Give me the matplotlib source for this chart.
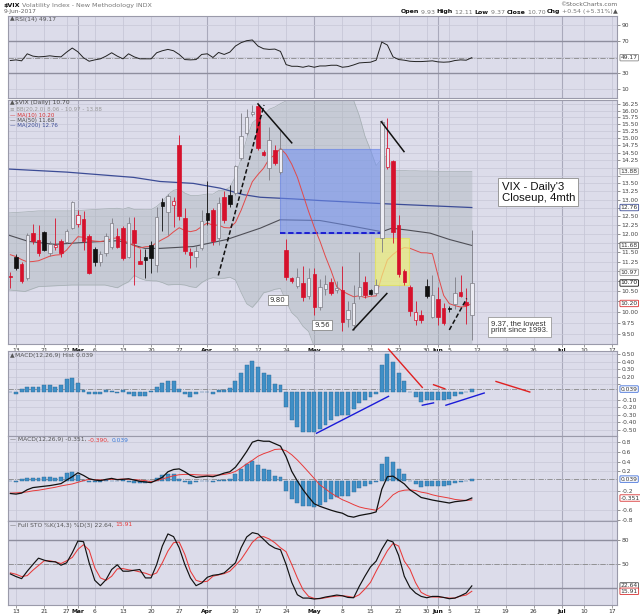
import numpy as np
import matplotlib
matplotlib.use('Agg')
import matplotlib.pyplot as plt
from matplotlib.patches import Rectangle
from matplotlib.transforms import blended_transform_factory
from matplotlib.ticker import NullLocator, NullFormatter

plt.rcParams['font.family'] = ['DejaVu Sans']

# ---------------- data (trading-day index: -1 = 10 Feb 2017 ... 81 = 9 Jun 2017) -------------
prev_close = 10.88
opens = [10.88, 11.38, 11.19, 10.82, 12.02, 11.83, 12.04, 11.47, 11.63, 11.81, 11.77, 12.17, 12.27, 12.43,
         11.95, 11.58, 11.25, 11.47, 11.65, 11.95, 12.16, 11.38, 12.11, 11.27, 11.38, 11.69, 11.16, 12.94,
         12.64, 12.84, 14.77, 12.44, 11.51, 11.36, 11.60, 12.59, 12.69, 11.89, 13.09, 13.13, 13.21, 14.31,
         15.17, 15.86, 16.17, 14.51, 13.98, 14.58, 13.85, 11.56, 10.82, 10.62, 10.70, 10.38, 10.92, 10.12,
         10.55, 10.72, 10.52, 10.52, 9.84, 9.70, 10.39, 10.72, 10.52, 10.45, 11.88, 14.04, 14.22, 12.26,
         11.00, 10.61, 9.81, 9.94, 10.62, 9.89, 10.31, 10.09, 10.10, 10.18, 10.47, 10.24, 9.93]
highs = [10.97, 11.45, 11.25, 12.02, 12.27, 12.25, 12.08, 11.80, 12.44, 11.85, 12.15, 12.96, 12.70, 12.65,
         12.00, 11.65, 11.53, 12.02, 12.44, 12.16, 12.22, 12.49, 12.49, 11.58, 11.58, 11.79, 12.79, 13.05,
         13.17, 13.09, 15.11, 12.75, 11.60, 11.70, 12.69, 13.56, 12.75, 13.09, 13.27, 13.45, 14.10, 15.90,
         16.05, 16.22, 16.25, 14.60, 15.40, 14.75, 15.29, 11.86, 10.85, 11.07, 11.12, 11.08, 11.07, 10.80,
         10.90, 10.82, 10.75, 11.12, 10.25, 10.66, 11.51, 10.87, 10.55, 10.80, 15.65, 15.71, 14.25, 12.54,
         11.06, 10.66, 10.26, 10.05, 10.80, 10.90, 10.60, 10.20, 10.15, 10.85, 10.90, 10.57, 12.11]
lows = [10.57, 11.02, 10.70, 10.78, 11.72, 11.40, 11.52, 11.40, 11.55, 11.38, 11.74, 12.13, 12.20, 11.56,
        10.93, 11.12, 11.14, 11.40, 11.58, 11.60, 11.29, 11.34, 10.65, 11.19, 10.82, 10.95, 10.99, 12.08,
        11.96, 12.20, 12.40, 11.45, 11.07, 11.10, 11.55, 12.26, 11.70, 11.70, 12.30, 12.79, 13.15, 14.25,
        15.10, 15.80, 14.60, 14.38, 13.60, 14.10, 13.80, 10.78, 10.70, 10.57, 10.26, 10.30, 9.93, 10.05,
        10.40, 10.40, 10.45, 9.56, 9.65, 9.59, 10.30, 10.34, 10.40, 10.40, 11.51, 13.95, 11.75, 10.86,
        10.64, 9.90, 9.70, 9.75, 10.34, 9.85, 9.70, 9.70, 10.00, 10.08, 10.35, 9.73, 9.37]
closes = [10.85, 11.07, 10.74, 11.97, 11.79, 11.47, 11.56, 11.71, 11.69, 11.47, 12.09, 12.92, 12.54, 11.81,
          10.95, 11.25, 11.44, 11.93, 12.30, 11.65, 11.35, 12.30, 11.75, 11.19, 11.28, 11.34, 12.47, 12.81,
          13.12, 12.96, 12.50, 11.53, 11.42, 11.54, 12.37, 12.38, 11.79, 12.89, 12.39, 12.87, 14.05, 15.07,
          15.77, 15.96, 14.66, 14.42, 14.93, 14.15, 14.63, 10.84, 10.76, 10.85, 10.36, 10.82, 10.11, 10.59,
          10.68, 10.46, 10.57, 9.77, 10.05, 10.21, 10.60, 10.40, 10.42, 10.65, 15.59, 14.66, 12.04, 10.93,
          10.72, 10.02, 9.99, 9.81, 10.38, 10.41, 9.89, 9.75, 10.07, 10.45, 10.39, 10.16, 10.70]

# moving-average values read off the chart where the history is not visible
ma10_head = [11.43, 11.38, 11.30, 11.24, 11.25, 11.27, 11.33, 11.39, 11.42]
bb_head_idx = [-1.4, 1.6, 4.0, 9.9, 15.8]
bb_head_upper = [12.60, 12.63, 12.66, 12.66, 12.72]
bb_head_lower = [10.53, 10.49, 10.61, 10.65, 10.65]
ma50_idx = [-1.4, 2.2, 6.9, 12.9, 18.2, 22.9, 25.6, 31.5, 37.4, 43.4, 46.9, 54.0, 60.0, 65.0, 66.8, 69.4,
            73.6, 77.1, 81.0]
ma50_val = [11.97, 11.79, 11.71, 11.77, 11.81, 11.60, 11.60, 11.65, 11.84, 12.16, 12.40, 12.38, 12.21,
            12.06, 12.16, 12.11, 12.02, 11.84, 11.68]
ma200_idx = [-1.4, 9.0, 20.9, 25.6, 31.5, 36.3, 40.4, 43.4, 49.3, 54.0, 65.9, 81.0]
ma200_val = [13.96, 13.86, 13.69, 13.56, 13.50, 13.35, 13.15, 13.07, 13.02, 12.97, 12.87, 12.76]

rsi = [45.6, 46.4, 45.2, 54.0, 51.1, 50.2, 50.6, 51.5, 50.6, 50.2, 56.1, 61.2, 56.5, 49.0, 44.7, 46.4, 47.7,
       51.1, 55.3, 51.1, 47.7, 54.0, 50.2, 47.7, 47.7, 47.7, 55.3, 57.8, 59.5, 57.8, 53.2, 46.8, 46.4, 46.8,
       53.2, 54.0, 49.4, 55.7, 53.2, 56.1, 63.7, 67.9, 70.4, 71.3, 63.7, 60.3, 59.5, 59.9, 57.0, 40.5, 38.4,
       38.4, 37.2, 38.8, 37.2, 38.8, 38.8, 39.7, 39.7, 37.2, 38.0, 40.1, 42.6, 43.1, 43.5, 46.0, 68.7, 64.9,
       50.2, 46.8, 46.0, 44.7, 44.3, 44.3, 44.7, 45.2, 43.9, 43.5, 43.9, 45.6, 46.4, 46.0, 49.17]
hist = [-0.005, -0.02, 0.04, 0.07, 0.07, 0.07, 0.09, 0.09, 0.065, 0.09, 0.17, 0.18, 0.12, 0.03, -0.02, -0.03,
        -0.02, 0.02, 0.01, -0.01, 0.02, -0.03, -0.05, -0.05, -0.05, 0.01, 0.07, 0.12, 0.15, 0.14, 0.04, -0.03,
        -0.06, -0.03, 0.005, 0.0, -0.02, 0.03, 0.03, 0.05, 0.14, 0.25, 0.36, 0.41, 0.33, 0.25, 0.22, 0.10,
        0.09, -0.20, -0.37, -0.46, -0.52, -0.52, -0.53, -0.49, -0.43, -0.37, -0.32, -0.30, -0.30, -0.23,
        -0.14, -0.10, -0.07, -0.02, 0.36, 0.50, 0.40, 0.25, 0.14, 0.0, -0.07, -0.13, -0.11, -0.11, -0.11,
        -0.11, -0.09, -0.05, -0.02, -0.005, 0.039]
macd = [-0.258, -0.27, -0.25, -0.18, -0.136, -0.122, -0.108, -0.095, -0.075, -0.054, 0.02, 0.088, 0.17,
        0.115, 0.047, 0.02, 0.007, 0.034, 0.054, 0.027, 0.034, 0.047, 0.02, -0.007, -0.02, -0.034, 0.02,
        0.075, 0.19, 0.237, 0.25, 0.19, 0.115, 0.075, 0.088, 0.10, 0.088, 0.122, 0.163, 0.19, 0.285, 0.44,
        0.61, 0.80, 0.84, 0.82, 0.82, 0.77, 0.72, 0.50, 0.20, 0.0, -0.18, -0.33, -0.47, -0.522, -0.563,
        -0.603, -0.637, -0.664, -0.725, -0.746, -0.712, -0.69, -0.67, -0.637, -0.17, 0.09, 0.10, 0.02, -0.06,
        -0.183, -0.258, -0.34, -0.366, -0.393, -0.414, -0.434, -0.454, -0.427, -0.414, -0.40, -0.351]
signal = [-0.25, -0.244, -0.237, -0.224, -0.203, -0.19, -0.17, -0.149, -0.129, -0.102, -0.081, -0.061,
          -0.027, 0.007, 0.034, 0.027, 0.02, 0.027, 0.034, 0.034, 0.041, 0.034, 0.027, 0.02, 0.007, -0.014,
          0.007, 0.041, 0.075, 0.108, 0.129, 0.136, 0.136, 0.129, 0.122, 0.122, 0.122, 0.122, 0.136, 0.156,
          0.197, 0.27, 0.353, 0.427, 0.51, 0.563, 0.603, 0.65, 0.658, 0.624, 0.541, 0.433, 0.31, 0.182,
          0.052, -0.08, -0.163, -0.25, -0.32, -0.386, -0.434, -0.488, -0.535, -0.563, -0.583, -0.603, -0.522,
          -0.407, -0.285, -0.217, -0.19, -0.183, -0.197, -0.23, -0.25, -0.285, -0.312, -0.332, -0.353, -0.38,
          -0.393, -0.40, -0.390]
sto_k = [37.6, 34.3, 31.7, 41.0, 49.4, 57.3, 54.8, 53.1, 52.7, 48.5, 51.5, 64.1, 78.7, 77.9, 51.5, 29.6, 22.9,
         30.4, 43.1, 49.0, 41.0, 41.0, 42.2, 43.1, 32.6, 32.6, 49.4, 72.4, 87.6, 84.2, 70.3, 49.4, 32.6, 22.9,
         26.3, 33.4, 35.9, 36.8, 38.9, 45.2, 51.5, 70.3, 83.8, 89.2, 87.6, 80.8, 74.1, 69.9, 67.8, 49.4, 27.1,
         11.6, 7.4, 7.4, 6.2, 7.0, 8.7, 9.9, 11.2, 10.3, 8.2, 7.8, 22.1, 34.7, 46.4, 53.6, 68.3, 80.0, 77.5,
         60.7, 34.7, 20.8, 13.7, 9.5, 7.8, 9.5, 9.5, 8.2, 6.6, 7.4, 10.3, 13.7, 22.64]
sto_d = [38.9, 37.2, 34.3, 35.5, 42.2, 48.1, 54.0, 54.0, 52.7, 50.6, 54.0, 58.2, 68.3, 74.1, 67.4, 45.2, 32.6,
         29.6, 34.7, 43.9, 44.3, 42.7, 41.8, 40.1, 38.5, 35.9, 38.9, 51.5, 66.2, 76.6, 77.5, 62.0, 41.0, 29.6,
         27.5, 28.4, 34.7, 36.4, 38.0, 41.0, 48.1, 55.7, 66.2, 77.1, 83.4, 84.2, 81.3, 76.6, 70.3, 65.3, 49.4,
         32.6, 17.9, 9.5, 7.0, 6.6, 7.8, 9.1, 9.9, 10.3, 9.5, 8.2, 11.6, 18.7, 27.1, 41.0, 54.0, 66.6, 75.8,
         72.4, 53.6, 43.5, 26.7, 14.5, 10.8, 8.7, 8.7, 8.2, 7.4, 7.4, 9.9, 11.2, 15.91]

tick_idx = [0, 5, 9, 11, 14, 19, 24, 29, 34, 39, 43, 48, 53, 58, 63, 68, 73, 75, 77, 82, 87, 92, 97, 101, 106]
tick_lab = ['13', '21', '27', 'Mar', '6', '13', '20', '27', 'Apr', '10', '17', '24', 'May', '8', '15', '22',
            '30', 'Jun', '5', '12', '19', '26', 'Jul', '10', '17']
month_labels = ['Mar', 'Apr', 'May', 'Jun', 'Jul']

# annotations drawn on the chart (x in trading-day index, y in panel units)
price_trend_solid = [((43.0, 16.25), (49.0, 14.84)), ((64.9, 15.59), (68.95, 14.54)),
                     ((59.9, 9.59), (65.9, 10.44))]
price_trend_dashed = [((35.95, 10.89), (44.07, 16.21)), ((77.0, 9.59), (80.1, 10.32))]
hist_red_lines = [((66.2, 0.565), (72.2, 0.061)), ((74.2, 0.096), (76.2, 0.043)), ((85.3, 0.139), (91.3, 0.0))]
hist_blue_lines = [((53.4, -0.543), (66.2, -0.057)), ((72.2, -0.174), (74.2, -0.143)),
                   ((76.4, -0.174), (83.2, -0.013))]
blue_box = (46.9, 65.0, 12.02, 14.63)
yellow_box = (63.8, 69.9, 10.65, 11.88)

# ---------------- figure ----------------
W, H = 640, 614
fig = plt.figure(figsize=(W / 100, H / 100), dpi=100, facecolor='white')
renderer = fig.canvas.get_renderer()
BG = '#dcdcea'
GRID = '#c7c7d7'
MGRID = '#a9a9bb'
XL = (-1.42, 106.8)
days = np.arange(-1, 82)


def px_axes(top, bottom, left=8, right=617):
    return fig.add_axes([left / W, 1 - bottom / H, (right - left) / W, (bottom - top) / H])


def style(ax, ylim, yticks, fmt, boxes=(), log=False):
    ax.set_facecolor(BG)
    if log:
        ax.set_yscale('log')
    ax.set_xlim(XL)
    ax.set_ylim(ylim)
    ax.yaxis.tick_right()
    ax.set_yticks(yticks)
    # labels hidden behind the value boxes on the right axis are left out
    ypix = lambda v: ax.transData.transform((0, v))[1]
    labs = []
    for v in yticks:
        near = any(abs(ypix(v) - ypix(b)) < 6.5 for b in boxes)
        labs.append('' if near else fmt % v)
    ax.set_yticklabels(labs)
    ax.yaxis.set_minor_locator(NullLocator())
    ax.yaxis.set_minor_formatter(NullFormatter())
    ax.tick_params(axis='y', labelsize=4.3, length=2, width=0.5, pad=1.2, colors='#666', labelcolor='#444')
    ax.set_xticks(tick_idx)
    ax.set_xticklabels([])
    ax.tick_params(axis='x', length=0)
    for s in ax.spines.values():
        s.set_color('#9a9aaa')
        s.set_linewidth(0.8)
    for t, lab in zip(tick_idx, tick_lab):
        m = lab in month_labels
        ax.axvline(t, color=MGRID if m else GRID, lw=0.8 if m else 0.6, zorder=0.5)
    for y in yticks:
        ax.axhline(y, color=GRID, lw=0.5, zorder=0.5)


def xlabels(ax):
    ax.set_xticklabels(tick_lab)
    ax.tick_params(axis='x', length=2, width=0.5, labelsize=4.3, pad=0.8, colors='#777', labelcolor='#333')
    for lab in ax.get_xticklabels():
        if lab.get_text() in month_labels:
            lab.set_fontweight('bold')
            lab.set_color('#111')


def vbox(ax, y, txt, ec, color='#333'):
    tr = blended_transform_factory(ax.transAxes, ax.transData)
    ax.text(1.006, y, txt, transform=tr, fontsize=4.3, color=color, va='center', ha='left', zorder=6,
            clip_on=False, bbox=dict(boxstyle='round,pad=0.12', fc='white', ec=ec, lw=0.6))


def seq(x, y, pieces, size=4.5, ha='left'):
    texts, widths = [], []
    for s, c, w in pieces:
        t = fig.text(0, 0, s, fontsize=size, color=c, fontweight=w, va='center', ha='left')
        widths.append(t.get_window_extent(renderer).width)
        texts.append(t)
    x0 = x - sum(widths) if ha == 'right' else x
    for t, wd in zip(texts, widths):
        t.set_position((x0 / W, 1 - y / H))
        x0 += wd


# ---------------- header ----------------
seq(4, 5, [('$VIX', '#111', 'bold'), (' Volatility Index - New Methodology INDX', '#777', 'normal')], size=4.6)
fig.text(4 / W, 1 - 12 / H, '9-Jun-2017', fontsize=4.3, color='#666', va='center')
fig.text(617 / W, 1 - 5 / H, '©StockCharts.com', fontsize=4.3, color='#666', va='center', ha='right')
seq(618, 12, [('Open', '#111', 'bold'), (' 9.93 ', '#777', 'normal'), ('High', '#111', 'bold'),
              (' 12.11 ', '#777', 'normal'), ('Low', '#111', 'bold'), (' 9.37 ', '#777', 'normal'),
              ('Close', '#111', 'bold'), (' 10.70 ', '#777', 'normal'), ('Chg', '#111', 'bold'),
              (' +0.54 (+5.31%)', '#777', 'normal'), ('▲', '#555', 'normal')], size=4.5, ha='right')

# ---------------- RSI ----------------
ax_r = px_axes(16, 98)
style(ax_r, (-1.25, 101.25), [90, 70, 30, 10], '%d', boxes=[rsi[-1]])
ax_r.axhline(50, color=GRID, lw=0.5, zorder=0.5)
for lv in (70, 30):
    ax_r.axhline(lv, color='#8e8e9e', lw=1.0, zorder=1)
ax_r.axhline(rsi[-1], color='#888', lw=0.6, ls='-.', zorder=1)
ax_r.plot(days, rsi, color='#222', lw=0.7, zorder=3)
vbox(ax_r, rsi[-1], '49.17', '#888')
seq(10, 19, [('▲', '#555', 'normal'), ('RSI(14) 49.17', '#555', 'normal')], size=4.3)

# ---------------- price ----------------
c = np.array(closes)
bb_x, bb_u, bb_l = list(bb_head_idx), list(bb_head_upper), list(bb_head_lower)
for i in range(19, len(c)):
    w = c[i - 19:i + 1]
    bb_x.append(days[i]); bb_u.append(w.mean() + 2 * w.std()); bb_l.append(w.mean() - 2 * w.std())
ma10 = list(ma10_head) + [c[i - 9:i + 1].mean() for i in range(9, len(c))]
price_boxes = [bb_u[-1], ma200_val[-1], ma50_val[-1], 10.97, closes[-1], ma10[-1]]

ax_p = px_axes(100, 344)
pt = list(np.round(np.arange(9.5, 16.26, 0.25), 2))
style(ax_p, (9.28, 16.40), pt, '%.2f', boxes=price_boxes, log=True)
xlabels(ax_p)

ax_p.fill_between(bb_x, bb_l, bb_u, color='#a9b3b8', alpha=0.42, lw=0, zorder=1)
ax_p.plot(bb_x, bb_u, color='#a4aeb2', lw=0.5, zorder=1.1)
ax_p.plot(bb_x, bb_l, color='#a4aeb2', lw=0.5, zorder=1.1)

ax_p.plot(ma200_idx, ma200_val, color='#3c4c96', lw=0.9, zorder=1.5)
ax_p.plot(ma50_idx, ma50_val, color='#4e4e56', lw=0.8, zorder=1.5)

x0, x1, y0, y1 = blue_box
ax_p.add_patch(Rectangle((x0, y0), x1 - x0, y1 - y0, fc='#6f8ff2', ec='#5a78e6', lw=0.8, alpha=0.55,
                         zorder=1.8))
ax_p.plot([x0, x1], [y0, y0], color='#1414d0', lw=1.3, ls=(0, (3, 1.5)), zorder=2.1)
ax_p.plot(days, ma10, color='#e24a4a', lw=0.7, zorder=2.2)
x0, x1, y0, y1 = yellow_box
ax_p.add_patch(Rectangle((x0, y0), x1 - x0, y1 - y0, fc='#f2f27c', ec='#e6e650', lw=0.8, alpha=0.7,
                         zorder=2.5))

RED, BLK, GRY = '#d6112c', '#111111', '#7c7c84'
pc = [prev_close] + closes[:-1]
for d, o, h, l, cl, p in zip(days, opens, highs, lows, closes, pc):
    col = RED if cl < p else BLK
    hollow = cl > o
    ec = col if (col == RED or not hollow) else GRY
    ax_p.vlines(d, l, h, color=ec, lw=0.6, zorder=2.9)
    lo, hi = min(o, cl), max(o, cl)
    if hi - lo < 0.03:
        hi = lo + 0.03
    ax_p.bar(d, hi - lo, bottom=lo, width=0.62, color='#ececf3' if hollow else col, edgecolor=ec,
             lw=0.5, zorder=3)

for (a, b) in price_trend_solid:
    ax_p.plot([a[0], b[0]], [a[1], b[1]], color='#111', lw=1.1, zorder=4, clip_on=False)
for (a, b) in price_trend_dashed:
    ax_p.plot([a[0], b[0]], [a[1], b[1]], color='#111', lw=1.1, ls=(0, (3, 1.6)), zorder=4)

box = dict(boxstyle='square,pad=0.3', fc='white', ec='#888', lw=0.6)
ax_p.text(46.5, 10.29, '9.80', fontsize=5, ha='center', va='center', color='#333', bbox=box, zorder=5)
ax_p.text(54.4, 9.71, '9.56', fontsize=5, ha='center', va='center', color='#333', bbox=box, zorder=5)
ax_p.text(86.3, 13.22, "VIX - Daily'3\nCloseup, 4mth", fontsize=8.2, family='Liberation Sans', ha='left',
          va='center', color='#111', linespacing=1.15, zorder=5,
          bbox=dict(boxstyle='square,pad=0.3', fc='white', ec='#999', lw=0.7))
ax_p.text(84.4, 9.66, '9.37, the lowest\nprint since 1993.', fontsize=5.6, family='Liberation Sans',
          ha='left', va='center', color='#333', linespacing=1.1, zorder=5,
          bbox=dict(boxstyle='square,pad=0.35', fc='white', ec='#999', lw=0.6))

vbox(ax_p, bb_u[-1], '13.88', '#999')
vbox(ax_p, ma200_val[-1], '12.76', '#3c4c96')
vbox(ax_p, ma50_val[-1], '11.68', '#555')
vbox(ax_p, 10.97, '10.97', '#999')
vbox(ax_p, closes[-1], '10.70', '#111', color='#111')
vbox(ax_p, ma10[-1], '10.20', '#d83030')

seq(10, 102.5, [('▲', '#555', 'normal'), ('$VIX (Daily) 10.70', '#444', 'normal')], size=4.3)
seq(10, 109, [('≡ BB(20,2.0) 8.06 - 10.97 - 13.88', '#999', 'normal')], size=4.0)
seq(10, 115, [('— MA(10) 10.20', '#d83030', 'normal')], size=4.0)
seq(10, 120.5, [('— MA(50) 11.68', '#444', 'normal')], size=4.0)
seq(10, 126, [('— MA(200) 12.76', '#3c4c96', 'normal')], size=4.0)

# ---------------- MACD histogram ----------------
ax_h = px_axes(351, 436)
ht = [0.5, 0.4, 0.3, 0.2, 0.1, -0.1, -0.2, -0.3, -0.4, -0.5]
style(ax_h, (-0.579, 0.54), ht, '%.2f', boxes=[hist[-1]])
ax_h.axhline(hist[-1], color='#888', lw=0.6, ls='-.', zorder=1)
ax_h.bar(days, hist, width=0.7, color='#3f8fc6', edgecolor='#2a6896', lw=0.3, zorder=2)
for (a, b) in hist_red_lines:
    ax_h.plot([a[0], b[0]], [a[1], b[1]], color='#e02020', lw=1.0, zorder=4, clip_on=False)
for (a, b) in hist_blue_lines:
    ax_h.plot([a[0], b[0]], [a[1], b[1]], color='#1a1ad8', lw=1.0, zorder=4, clip_on=False)
vbox(ax_h, hist[-1], '0.039', '#3a6ad8')
seq(10, 356, [('▲', '#555', 'normal'), ('MACD(12,26,9) Hist 0.039', '#555', 'normal')], size=4.3)

# ---------------- MACD ----------------
ax_m = px_axes(436, 521)
mt = [0.8, 0.6, 0.4, 0.2, -0.2, -0.6, -0.8]
style(ax_m, (-0.825, 0.928), mt, '%.1f', boxes=[hist[-1], macd[-1]])
ax_m.axhline(hist[-1], color='#888', lw=0.6, ls='-.', zorder=1)
ax_m.bar(days, hist, width=0.7, color='#3f8fc6', edgecolor='#2a6896', lw=0.3, zorder=2)
ax_m.plot(days, signal, color='#e83a3a', lw=0.7, zorder=3)
ax_m.plot(days, macd, color='#111', lw=0.9, zorder=3.2)
vbox(ax_m, hist[-1], '0.039', '#3a6ad8')
vbox(ax_m, macd[-1], '-0.351', '#d83030')
seq(10, 440, [('— MACD(12,26,9) -0.351, ', '#555', 'normal'), ('-0.390, ', '#e83a3a', 'normal'),
              ('0.039', '#3a7ad8', 'normal')], size=4.3)

# ---------------- Full STO ----------------
ax_s = px_axes(521, 605)
style(ax_s, (-1.25, 103.75), [80, 50], '%d', boxes=[sto_k[-1], sto_d[-1]])
for lv in (80, 20):
    ax_s.axhline(lv, color='#8e8e9e', lw=1.0, zorder=1)
ax_s.axhline(50, color='#888', lw=0.6, ls='-.', zorder=1.1)
ax_s.plot(days, sto_d, color='#e83a3a', lw=0.75, zorder=3)
ax_s.plot(days, sto_k, color='#111', lw=0.85, zorder=3.2)
vbox(ax_s, sto_k[-1], '22.64', '#555')
vbox(ax_s, sto_d[-1], '15.91', '#d83030')
xlabels(ax_s)
seq(10, 525, [('— Full STO %K(14,3) %D(3) 22.64, ', '#555', 'normal'), ('15.91', '#e83a3a', 'normal')],
    size=4.3)

fig.savefig('out.png', dpi=100, facecolor='white')
